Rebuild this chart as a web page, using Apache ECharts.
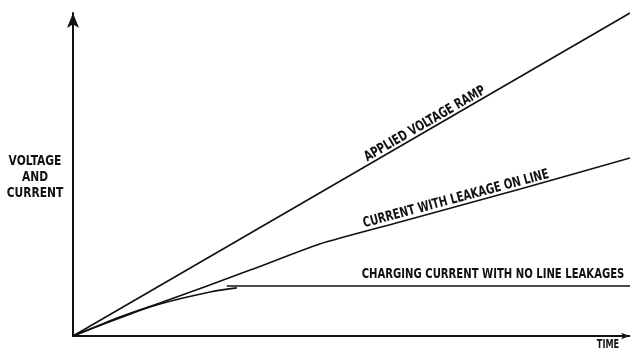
<!DOCTYPE html>
<html>
<head>
<meta charset="utf-8">
<script src="https://cdn.jsdelivr.net/npm/echarts@6/dist/echarts.min.js"></script>
<style>
  html, body { margin: 0; padding: 0; background: #fff; }
  #chart { width: 630px; height: 352px; }
</style>
</head>
<body>
<div id="chart"></div>
<script>
// time in % of the axis, voltage / current in % of the axis (arbitrary units)
const rampTime = [0, 100];
const rampVoltage = [0, 100];

const leakTime = [0, 8.4, 15.6, 31.8, 44.3, 58.7, 80.3, 100];
const leakCurrent = [0, 5.9, 10.2, 20.4, 28.5, 35.3, 45.5, 55.1];

const chargeTime = [0, 8.4, 15.6, 24.6, 29.4];
const chargeCurrent = [0, 5.6, 9.9, 13.6, 14.9];

const plateauTime = [27.6, 100];
const plateauCurrent = [15.5, 15.5];

const labelFont = "'DejaVu Sans Condensed', 'DejaVu Sans', sans-serif";

function pairs(xs, ys) {
    return xs.map(function (x, i) { return [x, ys[i]]; });
}

// narrow bold caps like the original lettering
function caption(text, x, y, deg, size, sx) {
    return {
        type: 'text',
        x: x, y: y,
        rotation: deg * Math.PI / 180,
        scaleX: sx,
        style: {
            text: text,
            font: 'bold ' + size + 'px ' + labelFont,
            lineHeight: 16,
            fill: '#111',
            align: 'center',
            verticalAlign: 'middle'
        }
    };
}

const chart = echarts.init(document.getElementById('chart'));

const lineStyle = { color: '#111', width: 1.6 };

const option = {
    animation: false,
    backgroundColor: '#fff',
    grid: { left: 73, right: 0, top: 13, bottom: 16, containLabel: false },
    xAxis: {
        type: 'value',
        min: 0,
        max: 100,
        axisLine: {
            show: true,
            lineStyle: { color: '#111', width: 2 },
            symbol: ['none', 'arrow'],
            symbolSize: [5, 9],
            symbolOffset: [0, 0]
        },
        axisTick: { show: false },
        axisLabel: { show: false },
        splitLine: { show: false }
    },
    yAxis: {
        type: 'value',
        min: 0,
        max: 100,
        axisLine: {
            show: true,
            lineStyle: { color: '#111', width: 2 },
            symbol: ['none', 'arrow'],
            symbolSize: [9, 15],
            symbolOffset: [0, 0]
        },
        axisTick: { show: false },
        axisLabel: { show: false },
        splitLine: { show: false }
    },
    series: [
        {
            name: 'Applied voltage ramp',
            type: 'line',
            showSymbol: false,
            clip: false,
            lineStyle: lineStyle,
            data: pairs(rampTime, rampVoltage)
        },
        {
            name: 'Current with leakage on line',
            type: 'line',
            showSymbol: false,
            smooth: 0.2,
            clip: false,
            lineStyle: lineStyle,
            data: pairs(leakTime, leakCurrent)
        },
        {
            name: 'Charging current',
            type: 'line',
            showSymbol: false,
            smooth: 0.4,
            clip: false,
            lineStyle: lineStyle,
            data: pairs(chargeTime, chargeCurrent)
        },
        {
            name: 'Charging current plateau',
            type: 'line',
            showSymbol: false,
            clip: false,
            lineStyle: lineStyle,
            data: pairs(plateauTime, plateauCurrent)
        }
    ],
    graphic: [
        caption('VOLTAGE\nAND\nCURRENT', 35, 177, 0, 14, 0.85),
        caption('TIME', 608, 345, 0, 13, 0.7),
        caption('APPLIED VOLTAGE RAMP', 425, 124, 30, 14, 0.8),
        caption('CURRENT WITH LEAKAGE ON LINE', 456, 199, 15, 14, 0.8),
        caption('CHARGING CURRENT WITH NO LINE LEAKAGES', 493, 274, 0, 14, 0.8)
    ]
};

chart.setOption(option);
</script>
</body>
</html>
